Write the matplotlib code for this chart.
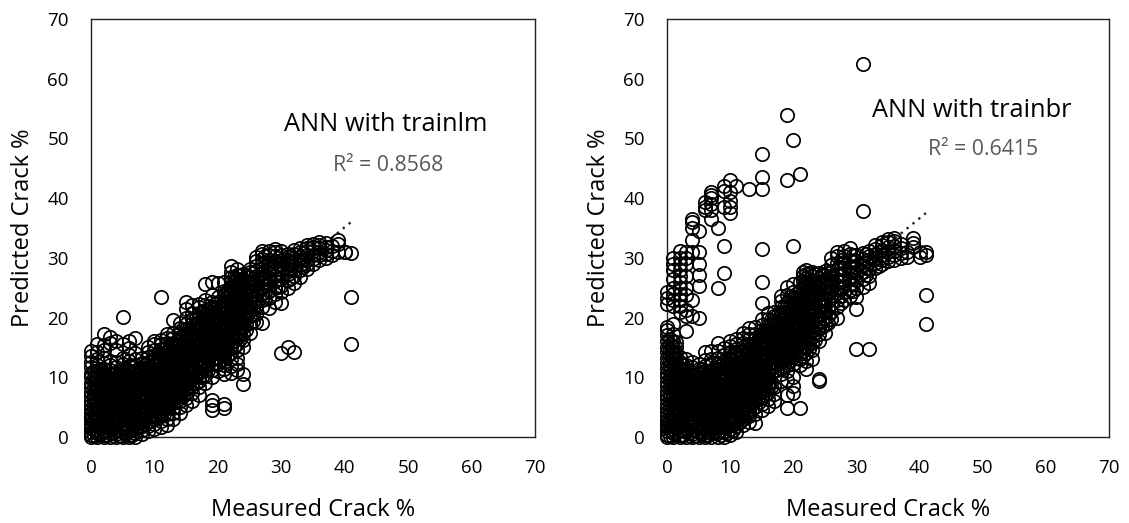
import matplotlib
matplotlib.use('Agg')
import matplotlib.pyplot as plt

plt.rcParams['font.family'] = ['Open Sans', 'DejaVu Sans']

# measured crack is whole numbers, so each list holds the predicted values of one column
measured = list(range(0, 42))

lm_predicted = [
    [0, 0.4, 0.9, 1.5, 2.1, 2.8, 3.4, 4.1, 4.7, 5.4, 6.1, 6.8, 7.6, 8.3, 9.1, 10, 10.8, 11.7, 12.6, 13.5, 14.4],
    [0, 0.6, 1.2, 1.9, 2.6, 3.3, 4, 4.7, 5.5, 6.2, 7, 7.7, 8.5, 9.3, 10.1, 11, 12, 13, 14.2, 15.5],
    [0, 0.3, 1, 1.7, 2.3, 3, 3.8, 4.5, 5.2, 5.9, 6.6, 7.4, 8.1, 8.9, 9.7, 10.6, 11.4, 12.4, 13.2, 14.6, 15.4, 17.2],
    [0, 0.7, 1.4, 2.1, 2.8, 3.5, 4.2, 5, 5.7, 6.4, 7.2, 7.9, 8.7, 9.5, 10.3, 11.2, 12, 12.8, 15.7, 16.8],
    [0, 0.5, 1.1, 1.8, 2.5, 3.2, 3.9, 4.6, 5.3, 6, 6.8, 7.5, 8.3, 9.1, 9.9, 10.8, 11.7, 12.5, 14.6, 16],
    [0, 0.8, 1.5, 2.2, 2.9, 3.6, 4.4, 5.1, 5.8, 6.5, 7.3, 8, 8.8, 9.6, 10.4, 11.3, 12.2, 13.2, 15.5, 20.1],
    [0, 0.4, 1.2, 1.9, 2.6, 3.3, 4, 4.8, 5.5, 6.2, 7, 7.7, 8.5, 9.3, 10.1, 11, 11.9, 12.8, 13.8, 14.9, 16.1],
    [0, 0.6, 1.3, 2, 2.7, 3.4, 4.2, 4.9, 5.6, 6.4, 7.1, 7.9, 8.7, 9.5, 10.3, 11.1, 12, 13, 14.1, 16.6],
    [0.5, 1.1, 1.8, 2.5, 3.2, 3.9, 4.7, 5.4, 6.1, 6.9, 7.6, 8.4, 9.2, 10, 10.8, 11.6, 12.4, 13.3],
    [1, 1.8, 2.6, 3.3, 4.1, 4.8, 5.5, 6.3, 7, 7.8, 8.5, 9.3, 10.1, 10.9, 11.7, 12.5, 13.4, 14.2, 15.1],
    [1.4, 2.2, 3, 3.8, 4.6, 5.3, 6, 6.7, 7.5, 8.2, 8.9, 9.7, 10.4, 11.2, 12, 12.8, 13.6, 14.5, 15.5, 16.1],
    [1.6, 2.7, 3.6, 4.4, 5.2, 5.9, 6.7, 7.4, 8.1, 8.8, 9.5, 10.2, 10.9, 11.7, 12.4, 13.1, 13.9, 14.7, 15.5, 16.3, 23.5],
    [2, 3, 3.9, 4.8, 5.6, 6.4, 7.2, 7.9, 8.6, 9.3, 10, 10.7, 11.4, 12.1, 12.8, 13.5, 14.3, 15, 15.8, 16.6, 17.3],
    [3, 4, 4.9, 5.7, 6.5, 7.3, 8, 8.7, 9.4, 10.1, 10.8, 11.5, 12.2, 12.9, 13.6, 14.3, 15, 15.8, 16.6, 17.5, 19.6],
    [4, 5.1, 6, 6.8, 7.6, 8.3, 9, 9.7, 10.4, 11.1, 11.8, 12.5, 13.2, 13.9, 14.6, 15.3, 16, 16.7, 17.5, 18.3, 19.1],
    [5.4, 6.5, 7.4, 8.2, 9, 9.7, 10.4, 11.1, 11.8, 12.5, 13.2, 13.9, 14.6, 15.3, 16, 16.7, 17.4, 18.1, 18.9, 20, 21.4, 22.6],
    [6, 7.3, 8.3, 9.1, 9.9, 10.6, 11.3, 12, 12.7, 13.4, 14.1, 14.8, 15.5, 16.2, 16.9, 17.6, 18.3, 19, 19.8, 20.7, 22.1],
    [7, 8.3, 9.3, 10.1, 10.9, 11.6, 12.3, 13, 13.7, 14.4, 15.1, 15.8, 16.5, 17.2, 17.9, 18.6, 19.3, 20, 20.8, 21.7, 22.3],
    [9.1, 10.2, 11.2, 12, 12.8, 13.6, 14.3, 15, 15.7, 16.4, 17.1, 17.8, 18.5, 19.2, 19.9, 20.6, 21.3, 22.1, 23, 25.7],
    [4.6, 5.4, 6.2, 10, 11.3, 12.3, 13.1, 13.9, 14.7, 15.4, 16.1, 16.8, 17.5, 18.2, 18.9, 19.6, 20.3, 21, 21.8, 22.6, 23.8, 25.9],
    [11, 12.2, 13.2, 14, 14.8, 15.5, 16.2, 16.9, 17.6, 18.3, 19, 19.7, 20.4, 21.1, 21.8, 22.6, 23.5, 25.8],
    [4.8, 5.6, 10.6, 11.4, 12, 13, 14, 14.9, 15.7, 16.4, 17.1, 17.8, 18.5, 19.2, 19.9, 20.6, 21.3, 22, 22.7, 23.6, 24.5, 26],
    [10.8, 11.9, 13, 14, 15, 15.9, 16.7, 17.5, 18.2, 18.9, 19.6, 20.3, 21, 21.7, 22.4, 23.1, 23.8, 24.5, 25.2, 26, 26.8, 27.7, 28.6],
    [11.2, 12.2, 13.2, 14.5, 15.6, 16.6, 17.5, 18.3, 19.1, 19.9, 20.7, 21.5, 22.3, 23.1, 23.9, 24.7, 25.5, 26.3, 27.1, 28.2],
    [8.9, 10.6, 15, 16.3, 17.4, 18.4, 19.3, 20.1, 20.9, 21.7, 22.5, 23.3, 24.1, 24.9, 25.7, 26.5, 27.3],
    [17.5, 19.1, 20.2, 21.1, 22, 22.8, 23.6, 24.4, 25.2, 26, 26.8, 27.6, 28.2],
    [19.2, 20.6, 21.8, 22.8, 23.7, 24.6, 25.4, 26.2, 27, 27.8, 28.6, 29.4, 30.2],
    [19.1, 21.8, 23, 24, 24.9, 25.8, 26.6, 27.4, 28.2, 29, 29.8, 30.6, 31.1],
    [21.6, 23.3, 24.5, 25.5, 26.4, 27.3, 28.1, 28.9, 29.7, 30.5, 31.2],
    [22.6, 24, 25.1, 26.1, 27, 27.9, 28.7, 29.5, 30.3, 31, 31.5],
    [14, 22.5, 24.3, 25.3, 26.4, 27.3, 28.1, 28.9, 29.7, 30.4, 31.2],
    [15, 25, 26.3, 27.3, 28.2, 29, 29.6, 30.2, 30.6],
    [14.3, 25.8, 27, 27.9, 28.7, 29.4, 30, 30.7, 31.3],
    [26.8, 28, 28.8, 29.5, 30.2, 30.9, 31.6],
    [28.2, 29, 29.7, 30.4, 31.1, 31.7, 32.2],
    [29, 29.8, 30.5, 31.2, 31.8, 32.4],
    [29.6, 30.4, 31, 31.6, 32.2, 32.6],
    [30, 30.7, 31.3, 31.9, 32.5],
    [30.4, 31.2, 32],
    [31, 32.4, 33],
    [31, 30.9],
    [15.5, 23.5, 30.8],
]

# the thick part of the cloud, points that fall between the whole numbers
lm_fill_x = [0.5, 1.5, 2.5, 3.5, 4.5, 5.5, 6.5, 7.5, 8.5, 9.5, 10.5, 11.5, 12.5, 13.5, 14.5, 15.5, 16.5, 17.5,
             18.5, 19.5, 20.5, 21.5, 22.5, 23.5, 24.5, 25.5, 27.5, 29.5, 31.5, 33.5]
lm_fill_y = [
    [0.2, 1.1, 2, 2.9, 3.8, 4.7, 5.6, 6.5, 7.4, 8.3, 9.2, 10.1, 11],
    [0.6, 1.5, 2.4, 3.3, 4.2, 5.1, 6, 6.9, 7.8, 8.7, 9.6, 10.5, 11.4],
    [0.3, 1.2, 2.1, 3, 3.9, 4.8, 5.7, 6.6, 7.5, 8.4, 9.3, 10.2, 11.1],
    [0.7, 1.6, 2.5, 3.4, 4.3, 5.2, 6.1, 7, 7.9, 8.8, 9.7, 10.6],
    [0.2, 1.1, 2, 2.9, 3.8, 4.7, 5.6, 6.5, 7.4, 8.3, 9.2, 10.1, 11],
    [0.6, 1.5, 2.4, 3.3, 4.2, 5.1, 6, 6.9, 7.8, 8.7, 9.6, 10.5, 11.4],
    [0.3, 1.2, 2.1, 3, 3.9, 4.8, 5.7, 6.6, 7.5, 8.4, 9.3, 10.2, 11.1],
    [1.6, 2.5, 3.4, 4.3, 5.2, 6.1, 7, 7.9, 8.8, 9.7, 10.6, 11.5],
    [2.2, 3.1, 4, 4.9, 5.8, 6.7, 7.6, 8.5, 9.4, 10.3, 11.2, 12.1],
    [2.7, 3.6, 4.5, 5.4, 6.3, 7.2, 8.1, 9, 9.9, 10.8, 11.7, 12.6],
    [3.3, 4.2, 5.1, 6, 6.9, 7.8, 8.7, 9.6, 10.5, 11.4, 12.3, 13.2, 14.1],
    [3.9, 4.8, 5.7, 6.6, 7.5, 8.4, 9.3, 10.2, 11.1, 12, 12.9, 13.8, 14.7],
    [5.5, 6.4, 7.3, 8.2, 9.1, 10, 10.9, 11.8, 12.7, 13.6, 14.5, 15.4],
    [6.2, 7.1, 8, 8.9, 9.8, 10.7, 11.6, 12.5, 13.4, 14.3, 15.2, 16.1],
    [6.9, 7.8, 8.7, 9.6, 10.5, 11.4, 12.3, 13.2, 14.1, 15, 15.9, 16.8],
    [8.3, 9.2, 10.1, 11, 11.9, 12.8, 13.7, 14.6, 15.5, 16.4, 17.3, 18.2],
    [9.1, 10, 10.9, 11.8, 12.7, 13.6, 14.5, 15.4, 16.3, 17.2, 18.1, 19, 19.9],
    [10.1, 11, 11.9, 12.8, 13.7, 14.6, 15.5, 16.4, 17.3, 18.2, 19.1, 20, 20.9],
    [11.3, 12.2, 13.1, 14, 14.9, 15.8, 16.7, 17.6, 18.5, 19.4, 20.3, 21.2],
    [12.4, 13.3, 14.2, 15.1, 16, 16.9, 17.8, 18.7, 19.6, 20.5, 21.4, 22.3],
    [12.9, 13.8, 14.7, 15.6, 16.5, 17.4, 18.3, 19.2, 20.1, 21, 21.9, 22.8],
    [13.6, 14.5, 15.4, 16.3, 17.2, 18.1, 19, 19.9, 20.8, 21.7, 22.6, 23.5, 24.4],
    [15.1, 16, 16.9, 17.8, 18.7, 19.6, 20.5, 21.4, 22.3, 23.2, 24.1, 25, 25.9, 26.8],
    [16.4, 17.3, 18.2, 19.1, 20, 20.9, 21.8, 22.7, 23.6, 24.5, 25.4, 26.3, 27.2],
    [18, 19, 20, 21, 22, 23, 24, 25, 26, 27],
    [19.5, 20.5, 21.5, 22.5, 23.5, 24.5, 25.5, 26.5, 27.5],
    [23.1, 24.3, 25.5, 26.7, 27.9, 29.1, 30.3],
    [25.2, 26.4, 27.6, 28.8, 30],
    [26.7, 27.9, 29.1, 30.3],
    [28.4, 29.6, 30.8],
]

br_predicted = [
    [0, 0.4, 1, 1.6, 2.2, 2.9, 3.5, 4.2, 4.9, 5.6, 6.3, 7, 7.7, 8.5, 9.2, 10, 10.8, 11.6, 12.4, 13.3, 14.2, 15.1, 16, 17, 18, 18.4, 22.3, 23.2, 24.2],
    [0, 0.7, 1.3, 2, 2.7, 3.4, 4.1, 4.8, 5.6, 6.3, 7.1, 7.8, 8.6, 9.4, 10.2, 11, 12, 13, 14, 15, 16, 17.2, 19, 22, 23, 24, 25, 26.5, 28, 29, 30],
    [0, 0.4, 1.1, 1.8, 2.4, 3.1, 3.9, 4.6, 5.3, 6, 6.7, 7.5, 8.2, 9, 9.8, 10.7, 11.5, 12.5, 13.4, 21, 22, 23, 24, 25, 26, 27, 28, 29, 30, 31.2],
    [0, 0.8, 1.5, 2.2, 2.9, 3.6, 4.3, 5.1, 5.8, 6.5, 7.3, 8, 8.8, 9.6, 10.4, 11.3, 12.1, 13.1, 17.8, 20.2, 21.2, 23.8, 25, 27, 29, 30, 31],
    [0, 0.5, 1.2, 1.9, 2.6, 3.3, 4, 4.7, 5.4, 6.1, 6.9, 7.6, 8.4, 9.2, 10, 10.9, 11.8, 12.6, 20.3, 23, 31, 33, 35, 36, 36.5],
    [0, 0.8, 1.6, 2.3, 3, 3.7, 4.5, 5.2, 5.9, 6.6, 7.4, 8.1, 8.9, 9.7, 10.6, 11.4, 12.2, 20, 25.3, 27.2, 29, 31, 34.5],
    [0, 0.4, 1.2, 1.9, 2.6, 3.3, 4, 4.8, 5.5, 6.2, 7, 7.7, 8.5, 9.3, 10.1, 11, 11.9, 12.9, 14.2, 38.5, 39.3, 38],
    [0, 0.6, 1.3, 2, 2.7, 3.4, 4.2, 4.9, 5.6, 6.4, 7.1, 7.9, 8.7, 9.5, 10.3, 11.1, 12, 13, 14.4, 36.5, 38, 39, 40, 40.5, 41],
    [0, 0.7, 1.5, 2.2, 2.9, 3.7, 4.4, 5.2, 5.9, 6.7, 7.4, 8.2, 9, 9.8, 10.6, 11.4, 12.3, 13.3, 14.4, 15.7, 25, 35],
    [0, 0.8, 1.6, 2.4, 3.1, 3.9, 4.6, 5.4, 6.1, 6.9, 7.7, 8.5, 9.3, 10.1, 10.9, 11.8, 12.7, 13.7, 14.9, 27.5, 32, 38.5, 41.2, 42],
    [0.4, 1.3, 2.1, 2.9, 3.7, 4.5, 5.2, 5.9, 6.7, 7.5, 8.3, 9.1, 9.9, 10.7, 11.5, 12.4, 13.3, 14.3, 15.2, 16, 37.5, 38.5, 39.6, 41, 43],
    [0.8, 1.9, 2.8, 3.6, 4.4, 5.2, 6, 6.7, 7.5, 8.3, 9, 9.8, 10.6, 11.4, 12.2, 13, 13.9, 14.8, 15.6, 16.4, 42],
    [2, 3, 3.9, 4.8, 5.6, 6.4, 7.2, 7.9, 8.6, 9.3, 10, 10.7, 11.4, 12.1, 12.8, 13.5, 14.3, 15, 15.8, 16.6, 17.5],
    [2.5, 3.6, 4.6, 5.5, 6.3, 7.1, 7.8, 8.5, 9.2, 9.9, 10.6, 11.3, 12, 12.7, 13.4, 14.1, 14.8, 15.6, 16.4, 17.2, 18.2, 41.5],
    [2.4, 3.8, 5, 6, 6.8, 7.6, 8.4, 9.2, 10, 10.7, 11.4, 12.1, 12.8, 13.5, 14.2, 14.9, 15.7, 16.5, 17.3, 18.5],
    [4.5, 5.6, 6.6, 7.5, 8.3, 9.1, 9.9, 10.7, 11.4, 12.1, 12.8, 13.5, 14.2, 14.9, 15.6, 16.4, 17.2, 18, 18.8, 19.8, 22.5, 26, 31.5, 41.5, 43.6, 47.4],
    [5.2, 6.4, 7.4, 8.3, 9.1, 9.9, 10.7, 11.5, 12.3, 13, 13.7, 14.4, 15.1, 15.8, 16.5, 17.2, 18, 18.8, 19.7, 20.8],
    [6, 7.2, 8.3, 11, 11.8, 12.5, 13.2, 13.9, 14.6, 15.3, 16, 16.7, 17.4, 18.1, 18.8, 19.5, 20.2, 21],
    [9.4, 10.6, 11.6, 12.5, 13.3, 14, 14.7, 15.4, 16.1, 16.8, 17.5, 18.2, 18.9, 19.6, 20.3, 21, 21.8, 22.8, 23.6],
    [4.8, 7, 9.6, 11, 12.1, 13, 13.8, 14.6, 15.3, 16, 16.7, 17.4, 18.1, 18.8, 19.5, 20.2, 20.9, 21.7, 22.6, 23.7, 25.2, 43, 54],
    [7.4, 8.6, 10, 12.3, 13.4, 14.3, 15.1, 15.9, 16.6, 17.3, 18, 18.7, 19.4, 20.1, 20.8, 21.5, 22.3, 23.2, 24.2, 25.6, 32, 49.7],
    [4.8, 12, 13.1, 14.1, 15, 15.8, 16.6, 17.4, 18.2, 19, 19.8, 20.6, 21.4, 22.2, 23, 23.8, 24.7, 26, 44],
    [11.4, 12.8, 14, 15, 15.9, 16.7, 17.5, 18.3, 19.1, 19.9, 20.7, 21.5, 22.3, 23.1, 23.8, 24.5, 25.2, 25.9, 26.6, 27.3, 28],
    [13, 14.6, 15.8, 16.8, 17.7, 18.6, 19.4, 20.2, 21, 21.8, 22.6, 23.4, 24.2, 24.9, 25.6, 26.3, 27, 27.7],
    [9.4, 9.7, 16, 17.3, 18.4, 19.4, 20.3, 21.2, 22.1, 23, 23.9, 24.8, 25.7, 26.6, 27.4],
    [17.4, 18.8, 20, 21.1, 22.1, 23.1, 24.1, 25.1, 26.1, 27.1, 27.8],
    [19.8, 21, 22.2, 23.3, 24.4, 25.5, 26.6, 27.7, 28.8, 29.9],
    [20, 21.8, 23, 24.1, 25.2, 26.2, 27.2, 28.2, 29.2, 30.3, 31],
    [23, 24.2, 25.3, 26.3, 27.3, 28.3, 29.3, 30.3, 31.2],
    [23.6, 24.6, 25.6, 26.6, 27.6, 28.6, 29.6, 30.6, 31.7],
    [14.8, 21.4, 23.4, 25, 26.3, 27.4, 28.4, 29.4, 30.4],
    [25.2, 26.4, 27.6, 28.7, 29.8, 30.8, 37.8, 62.4],
    [14.8, 25.8, 27, 28.2, 29.3, 30.3, 31.2],
    [28.3, 29.1, 29.9, 30.7, 31.5, 32.2],
    [28.9, 29.7, 30.5, 31.3, 32.1, 32.7],
    [29.4, 30.2, 31, 31.8, 32.6, 33.2],
    [29.6, 30.4, 31.2, 32, 32.8, 33.4],
    [30, 30.8, 31.6, 32.4],
    [30.2, 31],
    [31.8, 32.5, 33.4],
    [30.9, 30.2],
    [19, 23.8, 30.5, 31],
]

br_fill_x = [0.5, 1.5, 2.5, 3.5, 4.5, 5.5, 6.5, 7.5, 8.5, 9.5, 10.5, 11.5, 12.5, 13.5, 14.5, 15.5, 16.5, 17.5,
             18.5, 19.5, 20.5, 21.5, 22.5, 23.5, 24.5, 25.5, 27.5, 29.5, 31.5, 33.5]
br_fill_y = [
    [0.2, 1.1, 2, 2.9, 3.8, 4.7, 5.6, 6.5, 7.4, 8.3, 9.2, 10.1, 11, 11.9, 12.8, 13.7, 14.6, 15.5, 16.4],
    [0.6, 1.5, 2.4, 3.3, 4.2, 5.1, 6, 6.9, 7.8, 8.7, 9.6, 10.5, 11.4, 12.3, 13.2, 14.1, 15, 15.9],
    [0.3, 1.2, 2.1, 3, 3.9, 4.8, 5.7, 6.6, 7.5, 8.4, 9.3, 10.2, 11.1, 12],
    [0.7, 1.6, 2.5, 3.4, 4.3, 5.2, 6.1, 7, 7.9, 8.8, 9.7, 10.6],
    [0.2, 1.1, 2, 2.9, 3.8, 4.7, 5.6, 6.5, 7.4, 8.3, 9.2, 10.1],
    [0.6, 1.5, 2.4, 3.3, 4.2, 5.1, 6, 6.9, 7.8, 8.7, 9.6, 10.5, 11.4],
    [0.3, 1.2, 2.1, 3, 3.9, 4.8, 5.7, 6.6, 7.5, 8.4, 9.3, 10.2, 11.1],
    [0.7, 1.6, 2.5, 3.4, 4.3, 5.2, 6.1, 7, 7.9, 8.8, 9.7, 10.6, 11.5],
    [0.3, 1.2, 2.1, 3, 3.9, 4.8, 5.7, 6.6, 7.5, 8.4, 9.3, 10.2, 11.1, 12],
    [0.7, 1.6, 2.5, 3.4, 4.3, 5.2, 6.1, 7, 7.9, 8.8, 9.7, 10.6, 11.5, 12.4],
    [1.2, 2.1, 3, 3.9, 4.8, 5.7, 6.6, 7.5, 8.4, 9.3, 10.2, 11.1, 12, 12.9, 13.8],
    [2.5, 3.4, 4.3, 5.2, 6.1, 7, 7.9, 8.8, 9.7, 10.6, 11.5, 12.4, 13.3, 14.2],
    [3.3, 4.2, 5.1, 6, 6.9, 7.8, 8.7, 9.6, 10.5, 11.4, 12.3, 13.2, 14.1, 15],
    [4.7, 5.6, 6.5, 7.4, 8.3, 9.2, 10.1, 11, 11.9, 12.8, 13.7, 14.6, 15.5],
    [5.9, 6.8, 7.7, 8.6, 9.5, 10.4, 11.3, 12.2, 13.1, 14, 14.9, 15.8, 16.7],
    [7.1, 8, 8.9, 9.8, 10.7, 11.6, 12.5, 13.4, 14.3, 15.2, 16.1, 17, 17.9],
    [8.3, 9.2, 11.5, 12.4, 13.3, 14.2, 15.1, 16, 16.9, 17.8, 18.7, 19.6],
    [11.3, 12.2, 13.1, 14, 14.9, 15.8, 16.7, 17.6, 18.5, 19.4, 20.3],
    [11.9, 12.8, 13.7, 14.6, 15.5, 16.4, 17.3, 18.2, 19.1, 20, 20.9, 21.8],
    [12.7, 13.6, 14.5, 15.4, 16.3, 17.2, 18.1, 19, 19.9, 20.8, 21.7, 22.6, 23.5],
    [13.2, 14.1, 15, 15.9, 16.8, 17.7, 18.6, 19.5, 20.4, 21.3, 22.2, 23.1, 24],
    [13.5, 14.4, 15.3, 16.2, 17.1, 18, 18.9, 19.8, 20.7, 21.6, 22.5, 23.4, 24.3, 25.2, 26.1, 27, 27.7],
    [14.8, 15.7, 16.6, 17.5, 18.4, 19.3, 20.2, 21.1, 22, 22.9, 23.8, 24.7, 25.6, 26.5, 27.4],
    [16.3, 17.4, 18.5, 19.6, 20.7, 21.8, 22.9, 24, 25.1, 26.2, 27.3],
    [18.4, 19.5, 20.6, 21.7, 22.8, 23.9, 25, 26.1, 27.2],
    [19.1, 20.3, 21.5, 22.7, 23.9, 25.1, 26.3, 27.5],
    [22.4, 23.6, 24.8, 26, 27.2, 28.4, 29.6],
    [24.5, 25.7, 26.9, 28.1, 29.3, 30.5],
    [27.1, 28.3, 29.5, 30.7],
    [28.6, 29.8, 31],
]

lm_trend_x = [0, 41]
lm_trend_y = [0.5, 36]
br_trend_x = [0, 41]
br_trend_y = [2, 37.5]

ticks = [0, 10, 20, 30, 40, 50, 60, 70]


def drawColumns(ax, xs, columns):
    for x, ys in zip(xs, columns):
        ax.plot([x] * len(ys), ys, linestyle='none', marker='o', markersize=9.6,
                markerfacecolor='none', markeredgecolor='black', markeredgewidth=1.25,
                clip_on=False, zorder=3)


def drawPanel(ax, columns, fill_x, fill_y, trend_x, trend_y):
    drawColumns(ax, measured, columns)
    drawColumns(ax, fill_x, fill_y)
    ax.plot(trend_x, trend_y, color='#222222', linestyle=(0, (1, 2.2)), linewidth=1.7, zorder=2)
    ax.set_xlim(0, 70)
    ax.set_ylim(0, 70)
    ax.set_xticks(ticks)
    ax.set_yticks(ticks)
    ax.tick_params(length=0, labelsize=13.5, pad=16, colors='black')
    for side in ax.spines.values():
        side.set_linewidth(1.0)
        side.set_color('#222222')
    ax.set_xlabel('Measured Crack %', fontsize=17, labelpad=15)
    ax.set_ylabel('Predicted Crack %', fontsize=17, labelpad=9)


W, H = 1129, 523
fig = plt.figure(figsize=(W / 100, H / 100), dpi=100, facecolor='white')

ax1 = fig.add_axes([91 / W, 1 - 437 / H, 444 / W, 418 / H])
drawPanel(ax1, lm_predicted, lm_fill_x, lm_fill_y, lm_trend_x, lm_trend_y)
ax1.text(46.4, 52.4, 'ANN with trainlm', fontsize=18.3, ha='center', va='center')
ax1.text(46.8, 45.5, 'R² = 0.8568', fontsize=15.3, color='#595959', ha='center', va='center')

ax2 = fig.add_axes([667 / W, 1 - 437 / H, 442 / W, 418 / H])
drawPanel(ax2, br_predicted, br_fill_x, br_fill_y, br_trend_x, br_trend_y)
ax2.text(48.2, 54.6, 'ANN with trainbr', fontsize=18.3, ha='center', va='center')
ax2.text(50, 48.1, 'R² = 0.6415', fontsize=15.3, color='#595959', ha='center', va='center')

fig.savefig('out.png', dpi=100, facecolor='white')
